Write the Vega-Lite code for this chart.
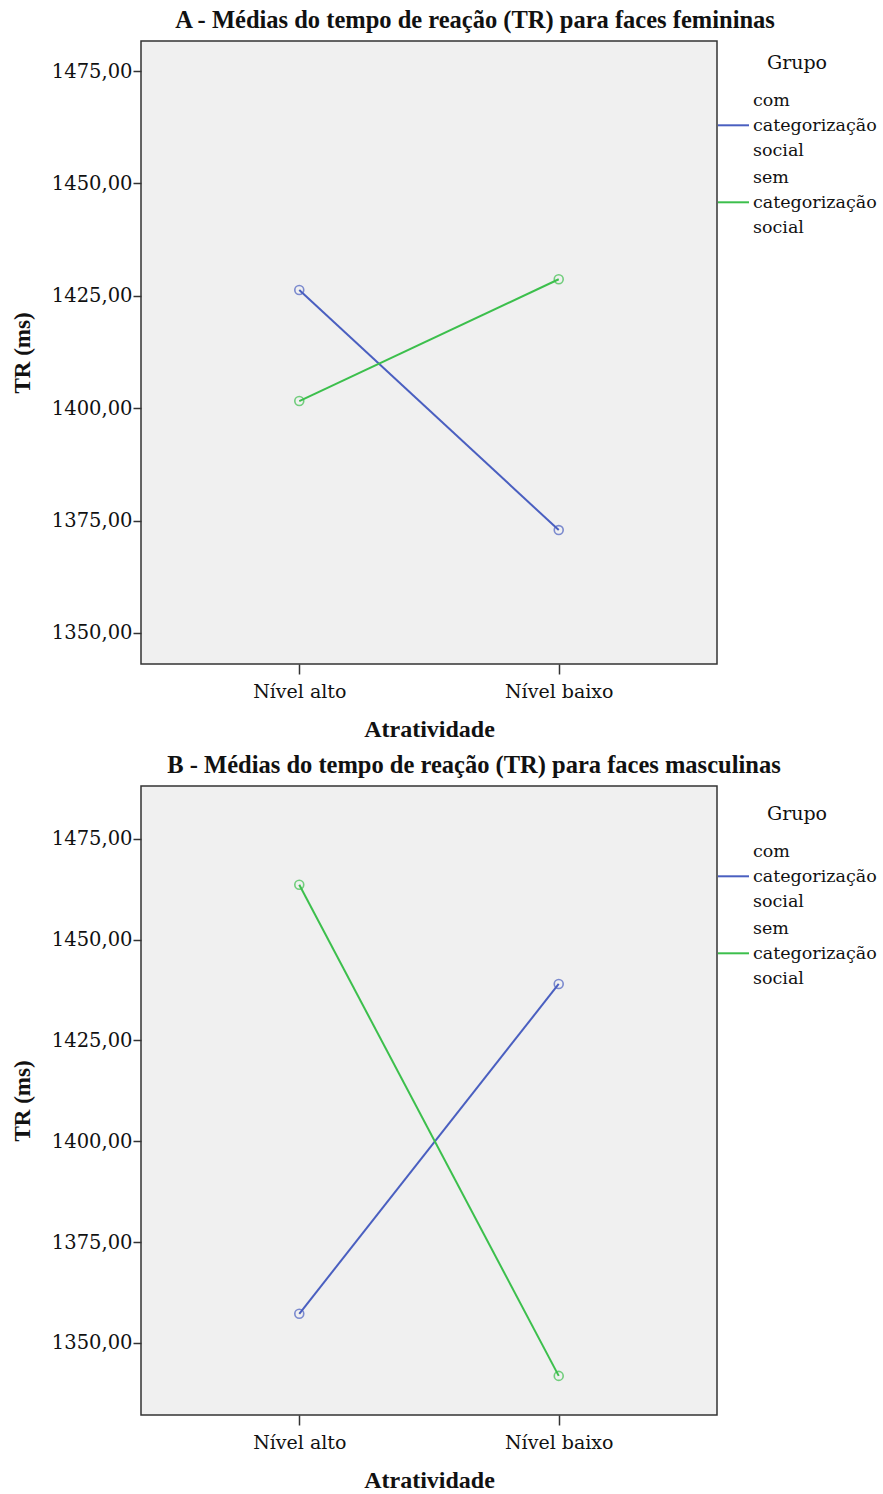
{
  "$schema": "https://vega.github.io/schema/vega-lite/v6.json",
  "padding": {"left": 10, "top": 6, "right": 2, "bottom": 2},
  "background": "white",
  "spacing": 9,
  "config": {
    "view": {"fill": "#f0f0f0", "stroke": "#333333", "strokeWidth": 1.5},
    "axis": {"grid": false, "domain": false, "tickColor": "#333333", "tickWidth": 1.5, "labelColor": "#111111", "titleColor": "#111111"},
    "legend": {"labelColor": "#111111", "titleColor": "#111111"}
  },
  "resolve": {"legend": {"color": "independent"}},
  "vconcat": [
    {
      "width": 576,
      "height": 623,
      "title": {"text": "A - Médias do tempo de reação (TR) para faces femininas", "fontSize": 24.5, "fontWeight": "bold", "font": "Liberation Serif", "anchor": "middle", "frame": "group", "dx": 46, "offset": 8, "color": "#111111"},
      "data": {"values": [
        {"Atratividade": "Nível alto", "Grupo": "com categorização social", "TR": 1426.3},
        {"Atratividade": "Nível baixo", "Grupo": "com categorização social", "TR": 1372.9},
        {"Atratividade": "Nível alto", "Grupo": "sem categorização social", "TR": 1401.6},
        {"Atratividade": "Nível baixo", "Grupo": "sem categorização social", "TR": 1428.7}
      ]},
      "encoding": {
        "x": {"field": "Atratividade", "type": "ordinal", "scale": {"type": "point", "padding": 0.61}, "axis": {"title": "Atratividade", "labelAngle": 0, "labelFont": "DejaVu Serif", "titleFont": "Liberation Serif", "labelFontSize": 19, "titleFontSize": 24, "titleFontWeight": "bold", "tickSize": 10, "labelPadding": 8, "titlePadding": 16}},
        "y": {"field": "TR", "type": "quantitative", "scale": {"domain": [1343.1, 1481.7], "nice": false, "zero": false}, "axis": {"title": "TR (ms)", "values": [1350, 1375, 1400, 1425, 1450, 1475], "labelExpr": "replace(format(datum.value, '.2f'), '.', ',')", "labelFont": "DejaVu Serif", "titleFont": "Liberation Serif", "labelFontSize": 19.5, "titleFontSize": 23, "titleFontWeight": "bold", "tickSize": 8, "labelPadding": 1, "titlePadding": 17}}
      },
      "layer": [
        {"mark": {"type": "line", "strokeWidth": 2},
         "encoding": {"color": {"field": "Grupo", "type": "nominal", "scale": {"domain": ["com categorização social", "sem categorização social"], "range": ["#4a5fc0", "#3cbf4c"]}, "legend": {"title": "Grupo", "orient": "none", "legendX": 576, "legendY": 13, "titleFontSize": 19, "titleFontWeight": "normal", "titleAnchor": "middle", "titlePadding": 11, "labelFontSize": 17.5, "labelFont": "DejaVu Serif", "titleFont": "DejaVu Serif", "labelExpr": "split(datum.label, ' ')", "symbolType": "M-1,1.6L1,1.6", "symbolSize": 961, "symbolStrokeWidth": 2, "symbolFillColor": "transparent", "labelOffset": 3, "padding": 0, "rowPadding": 2, "labelLimit": 200, "encode": {"labels": {"update": {"lineHeight": {"value": 25}}}}}}}},
        {"mark": {"type": "point", "filled": false, "size": 80, "strokeWidth": 1.6},
         "encoding": {"color": {"field": "Grupo", "type": "nominal", "legend": null}}}
      ]
    },
    {
      "width": 576,
      "height": 629,
      "title": {"text": "B - Médias do tempo de reação (TR) para faces masculinas", "fontSize": 24.5, "fontWeight": "bold", "font": "Liberation Serif", "anchor": "middle", "frame": "group", "dx": 45, "offset": 8, "color": "#111111"},
      "data": {"values": [
        {"Atratividade": "Nível alto", "Grupo": "com categorização social", "TR": 1357.2},
        {"Atratividade": "Nível baixo", "Grupo": "com categorização social", "TR": 1439.0},
        {"Atratividade": "Nível alto", "Grupo": "sem categorização social", "TR": 1463.6},
        {"Atratividade": "Nível baixo", "Grupo": "sem categorização social", "TR": 1341.8}
      ]},
      "encoding": {
        "x": {"field": "Atratividade", "type": "ordinal", "scale": {"type": "point", "padding": 0.61}, "axis": {"title": "Atratividade", "labelAngle": 0, "labelFont": "DejaVu Serif", "titleFont": "Liberation Serif", "labelFontSize": 19, "titleFontSize": 24, "titleFontWeight": "bold", "tickSize": 10, "labelPadding": 8, "titlePadding": 16}},
        "y": {"field": "TR", "type": "quantitative", "scale": {"domain": [1332.1, 1488.1], "nice": false, "zero": false}, "axis": {"title": "TR (ms)", "values": [1350, 1375, 1400, 1425, 1450, 1475], "labelExpr": "replace(format(datum.value, '.2f'), '.', ',')", "labelFont": "DejaVu Serif", "titleFont": "Liberation Serif", "labelFontSize": 19.5, "titleFontSize": 23, "titleFontWeight": "bold", "tickSize": 8, "labelPadding": 1, "titlePadding": 17}}
      },
      "layer": [
        {"mark": {"type": "line", "strokeWidth": 2},
         "encoding": {"color": {"field": "Grupo", "type": "nominal", "scale": {"domain": ["com categorização social", "sem categorização social"], "range": ["#4a5fc0", "#3cbf4c"]}, "legend": {"title": "Grupo", "orient": "none", "legendX": 576, "legendY": 19, "titleFontSize": 19, "titleFontWeight": "normal", "titleAnchor": "middle", "titlePadding": 11, "labelFontSize": 17.5, "labelFont": "DejaVu Serif", "titleFont": "DejaVu Serif", "labelExpr": "split(datum.label, ' ')", "symbolType": "M-1,1.6L1,1.6", "symbolSize": 961, "symbolStrokeWidth": 2, "symbolFillColor": "transparent", "labelOffset": 3, "padding": 0, "rowPadding": 2, "labelLimit": 200, "encode": {"labels": {"update": {"lineHeight": {"value": 25}}}}}}}},
        {"mark": {"type": "point", "filled": false, "size": 80, "strokeWidth": 1.6},
         "encoding": {"color": {"field": "Grupo", "type": "nominal", "legend": null}}}
      ]
    }
  ]
}
